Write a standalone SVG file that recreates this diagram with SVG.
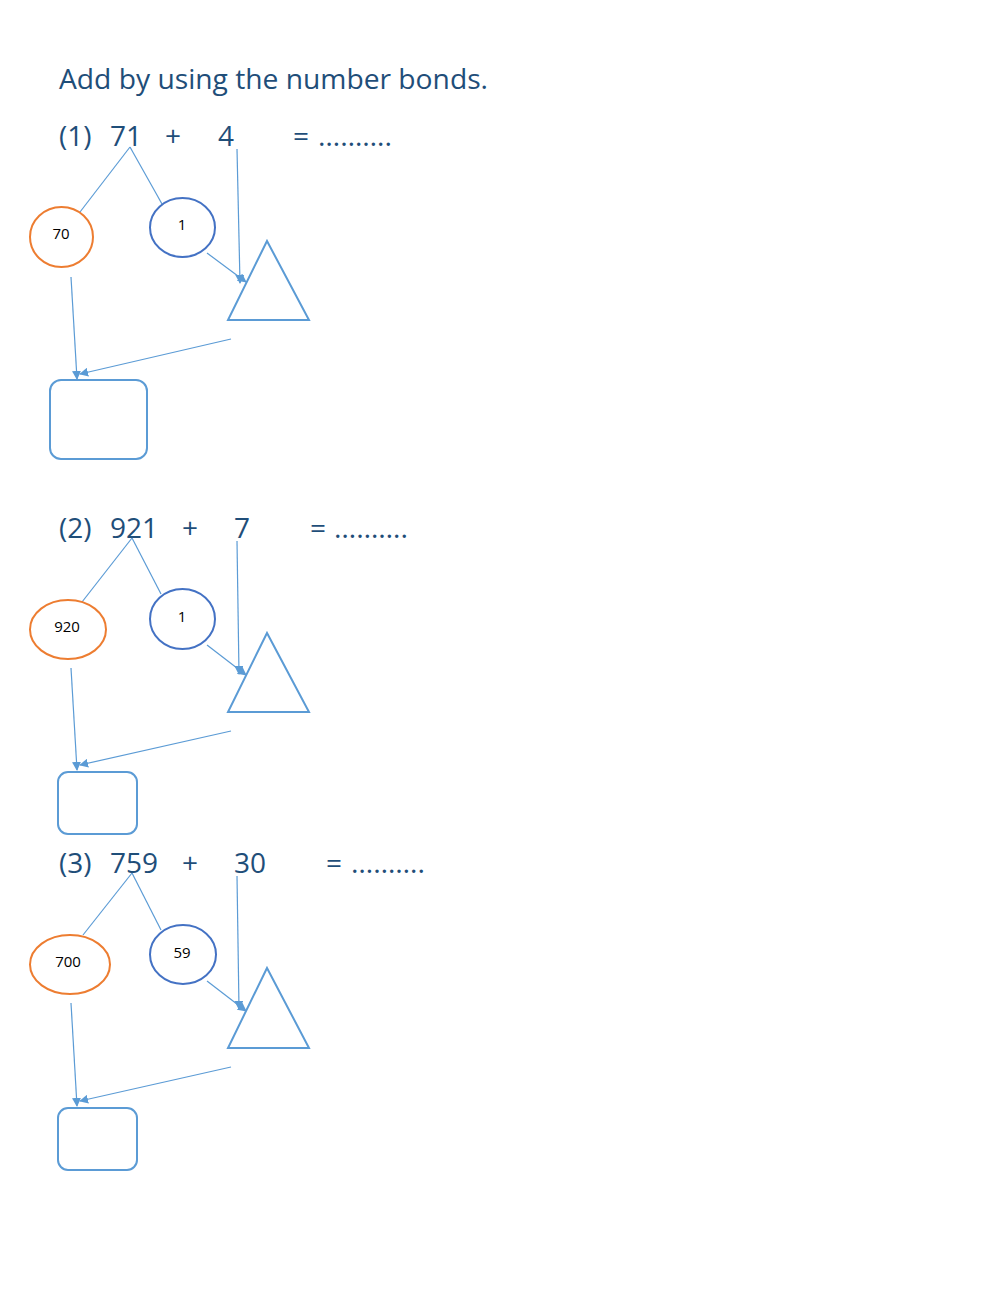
<svg xmlns="http://www.w3.org/2000/svg" width="1000" height="1291" viewBox="0 0 1000 1291">
<defs>
<marker id="ah" viewBox="0 0 10 10" refX="9" refY="5" markerWidth="9" markerHeight="9" markerUnits="userSpaceOnUse" orient="auto">
<path d="M0,0 L10,5 L0,10 Z" fill="#5B9BD5"/>
</marker>
<style>
.t{font-family:"Open Sans","Liberation Sans",sans-serif;font-size:28px;fill:#1F4E79}
.s{font-family:"Open Sans","Liberation Sans",sans-serif;font-size:15px;fill:#000;text-anchor:middle}
.or{fill:#fff;stroke:#ED7D31;stroke-width:2}
.bl{fill:#fff;stroke:#4472C4;stroke-width:2}
.sh{fill:#fff;stroke:#5B9BD5;stroke-width:2}
.ln{stroke:#5B9BD5;stroke-width:1.2;fill:none}
.ar{stroke:#5B9BD5;stroke-width:1.2;fill:none;marker-end:url(#ah)}
</style>
</defs>
<rect width="1000" height="1291" fill="#fff"/>
<text class="t" x="59" y="89" textLength="429" lengthAdjust="spacingAndGlyphs">Add by using the number bonds.</text>

<g id="row1">
<text class="t" x="59" y="146">(1)</text>
<text class="t" x="110" y="146">71</text>
<text class="t" x="165" y="146">+</text>
<text class="t" x="218" y="146">4</text>
<text class="t" x="293" y="146">=</text>
<text class="t" x="318" y="146" textLength="74" lengthAdjust="spacingAndGlyphs">……….</text>
</g>
<g id="row2">
<text class="t" x="59" y="538">(2)</text>
<text class="t" x="110" y="538">921</text>
<text class="t" x="182" y="538">+</text>
<text class="t" x="234" y="538">7</text>
<text class="t" x="310" y="538">=</text>
<text class="t" x="334" y="538" textLength="74" lengthAdjust="spacingAndGlyphs">……….</text>
</g>
<g id="row3">
<text class="t" x="59" y="873">(3)</text>
<text class="t" x="110" y="873">759</text>
<text class="t" x="182" y="873">+</text>
<text class="t" x="234" y="873">30</text>
<text class="t" x="326" y="873">=</text>
<text class="t" x="351" y="873" textLength="74" lengthAdjust="spacingAndGlyphs">……….</text>
</g>

<g id="connectors">
<line class="ln" x1="130" y1="147" x2="80" y2="212"/>
<line class="ln" x1="130" y1="147" x2="162" y2="204"/>
<line class="ar" x1="237" y1="149" x2="240" y2="283"/>
<line class="ar" x1="207" y1="253" x2="246" y2="282"/>
<line class="ar" x1="71" y1="277" x2="77" y2="379"/>
<line class="ar" x1="231" y1="339" x2="80" y2="374"/>

<line class="ln" x1="132" y1="538" x2="82" y2="602"/>
<line class="ln" x1="132" y1="538" x2="161" y2="594"/>
<line class="ar" x1="237" y1="541" x2="239" y2="674"/>
<line class="ar" x1="207" y1="645" x2="246" y2="675"/>
<line class="ar" x1="71" y1="668" x2="77" y2="770"/>
<line class="ar" x1="231" y1="731" x2="80" y2="765"/>

<line class="ln" x1="132" y1="873" x2="83" y2="935"/>
<line class="ln" x1="132" y1="873" x2="161" y2="930"/>
<line class="ar" x1="237" y1="876" x2="239" y2="1009"/>
<line class="ar" x1="207" y1="981" x2="246" y2="1011"/>
<line class="ar" x1="71" y1="1003" x2="77" y2="1106"/>
<line class="ar" x1="231" y1="1067" x2="80" y2="1101"/>
</g>

<g id="n1a"><ellipse class="or" cx="61.5" cy="237" rx="31.5" ry="30"/><text class="s" x="61" y="239">70</text></g>
<g id="n1b"><ellipse class="bl" cx="182.5" cy="227.5" rx="32.5" ry="29.5"/><text class="s" x="182" y="230">1</text></g>
<g id="n1c"><polygon class="sh" points="267,241 228,320 309,320"/></g>
<g id="n1d"><rect class="sh" x="50" y="380" width="97" height="79" rx="11"/></g>

<g id="n2a"><ellipse class="or" cx="68" cy="629.5" rx="38" ry="29.5"/><text class="s" x="67" y="632">920</text></g>
<g id="n2b"><ellipse class="bl" cx="182.5" cy="619" rx="32.5" ry="30"/><text class="s" x="182" y="622">1</text></g>
<g id="n2c"><polygon class="sh" points="267,633 228,712 309,712"/></g>
<g id="n2d"><rect class="sh" x="58" y="772" width="79" height="62" rx="10"/></g>

<g id="n3a"><ellipse class="or" cx="70" cy="964.5" rx="40" ry="29.5"/><text class="s" x="68" y="967">700</text></g>
<g id="n3b"><ellipse class="bl" cx="183" cy="954.5" rx="33" ry="29.5"/><text class="s" x="182" y="958">59</text></g>
<g id="n3c"><polygon class="sh" points="267,968 228,1048 309,1048"/></g>
<g id="n3d"><rect class="sh" x="58" y="1108" width="79" height="62" rx="10"/></g>
</svg>
